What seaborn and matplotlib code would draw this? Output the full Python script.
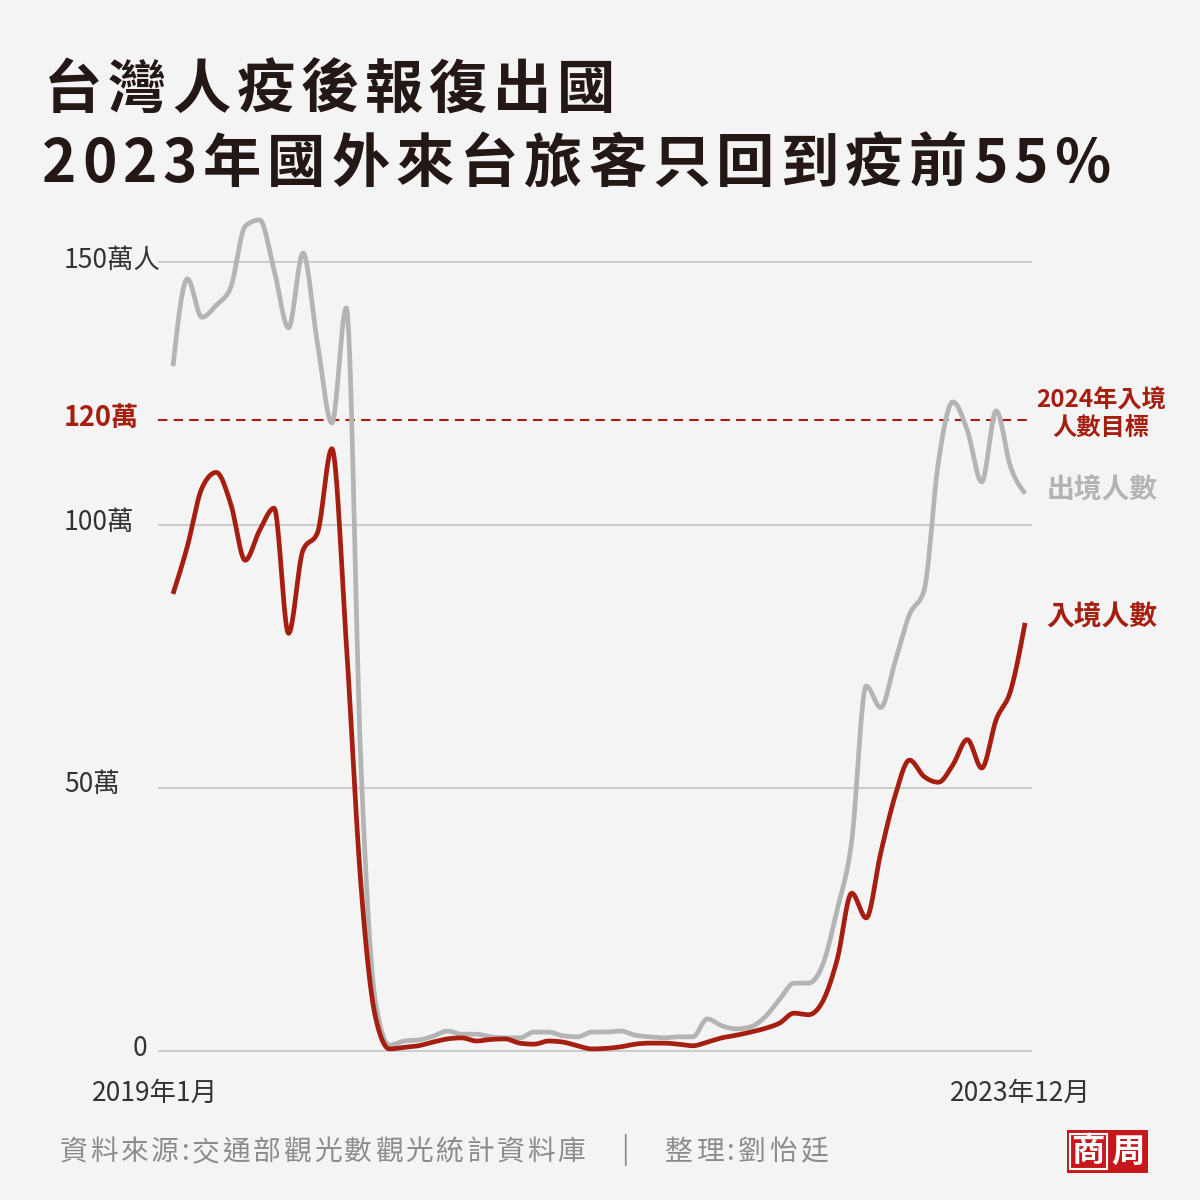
import numpy as np
import pandas as pd
import seaborn as sns
import matplotlib.pyplot as plt
from matplotlib.patches import Rectangle

# 月份: 2019年1月 ~ 2023年12月 (60個月), 單位: 萬人
month_labels = ['2019年1月', '2023年12月']

# 出境人數 (灰線)
outbound = [130.2, 146.8, 139.5, 141.8, 145.2, 156.8, 158.0, 148.5, 137.5, 151.7,
            134.6, 119.4, 141.3, 55.3, 9.7, 1.1, 1.9, 2.1, 2.8, 3.8,
            3.2, 3.2, 2.7, 2.5, 2.5, 3.6, 3.6, 2.9, 2.7, 3.6,
            3.6, 3.8, 3.0, 2.7, 2.5, 2.7, 2.7, 6.1, 4.8, 4.2,
            4.6, 6.5, 9.8, 12.9, 12.9, 16.5, 27.0, 40.0, 69.4, 65.3,
            74.0, 83.0, 87.5, 112.0, 123.4, 118.0, 108.2, 121.7, 111.0, 106.0]

# 入境人數 (紅線)
inbound = [86.9, 96.0, 107.0, 110.0, 104.0, 93.3, 99.0, 103.2, 79.4, 95.2,
           98.5, 114.5, 77.5, 32.0, 6.7, 0.4, 0.7, 1.0, 1.7, 2.3,
           2.5, 1.9, 2.2, 2.3, 1.5, 1.3, 1.9, 1.7, 1.0, 0.4,
           0.5, 0.8, 1.3, 1.5, 1.5, 1.3, 1.0, 1.7, 2.5, 3.0,
           3.6, 4.3, 5.3, 7.2, 6.9, 9.5, 17.5, 30.0, 25.3, 37.6,
           48.5, 55.3, 52.2, 51.1, 54.4, 59.2, 53.8, 63.0, 68.5, 81.4]

target = 120  # 2024年入境人數目標
grid_values = [0, 50, 100, 150]
grid_labels = ['0', '50萬', '100萬', '150萬人']

BG = '#f4f4f4'
RED = '#a61e10'
GRAY = '#b4b4b4'
INK = '#231815'
W, H = 1200, 1200


def P(x, y):
    # 像素座標 -> figure座標
    return x / W, 1 - y / H


def smooth(y, n=20):
    # monotone cubic (跟原圖的曲線一樣, 只用來畫線)
    y = np.asarray(y, float)
    x = np.arange(len(y), dtype=float)
    s = np.diff(y)
    m = np.zeros(len(y))
    for i in range(1, len(y) - 1):
        p = (s[i - 1] + s[i]) / 2
        m[i] = (np.sign(s[i - 1]) + np.sign(s[i])) * min(abs(s[i - 1]), abs(s[i]), 0.5 * abs(p))
    m[0] = (3 * s[0] - m[1]) / 2
    m[-1] = (3 * s[-1] - m[-2]) / 2
    xs, ys = [], []
    for i in range(len(y) - 1):
        t = np.linspace(0, 1, n, endpoint=False)
        h00 = 2 * t**3 - 3 * t**2 + 1
        h10 = t**3 - 2 * t**2 + t
        h01 = -2 * t**3 + 3 * t**2
        h11 = t**3 - t**2
        xs.append(x[i] + t)
        ys.append(h00 * y[i] + h10 * m[i] + h01 * y[i + 1] + h11 * m[i + 1])
    xs.append([x[-1]])
    ys.append([y[-1]])
    return np.concatenate(xs), np.concatenate(ys)


sns.set_theme(style='white', rc={'figure.facecolor': BG, 'axes.facecolor': BG})
plt.rcParams['font.family'] = ['Noto Sans CJK TC', 'DejaVu Sans']

fig = plt.figure(figsize=(12, 12), dpi=100)
fig.patch.set_facecolor(BG)

# 軸的範圍: 0 在 y=1051px, 150 在 y=262px; 第0個月 x=173px, 第59個月 x=1025px
ax = fig.add_axes([158 / W, 130 / H, 874 / W, 870 / H])
ax.set_facecolor(BG)
ax.set_xlim(-1.039, 59.48)
ax.set_ylim(-3.61, 161.79)
ax.axis('off')

for v in grid_values:
    ax.axhline(v, color='#c4c4c4', lw=1.2, zorder=1)
ax.axhline(target, color=RED, lw=1.5, ls=(0, (4.5, 3)), zorder=1)

rows = []
for name, vals in [('出境人數', outbound), ('入境人數', inbound)]:
    xs, ys = smooth(vals)
    rows.append(pd.DataFrame({'month': xs, 'value': ys, 'series': name}))
df = pd.concat(rows, ignore_index=True)

sns.lineplot(data=df, x='month', y='value', hue='series',
             hue_order=['出境人數', '入境人數'],
             palette={'出境人數': GRAY, '入境人數': RED},
             estimator=None, sort=False, legend=False, lw=3.4, ax=ax, zorder=3)
for line in ax.get_lines():
    line.set_solid_capstyle('butt')
    line.set_solid_joinstyle('round')

# y軸標籤
label_y = {0: 1048, 50: 785, 100: 522, 150: 260}
for v, lab in zip(grid_values, grid_labels):
    if v == 0:
        fig.text(*P(140, label_y[v]), lab, ha='center', va='center', fontsize=19, color='#333333')
    else:
        fig.text(*P(64, label_y[v]), lab, ha='left', va='center', fontsize=19, color='#333333')
fig.text(*P(64, 418), '120萬', ha='left', va='center', fontsize=19.5, color=RED, fontweight='bold')

# x軸標籤
fig.text(*P(155, 1093), month_labels[0], ha='center', va='center', fontsize=19, color='#333333')
fig.text(*P(1020, 1093), month_labels[1], ha='center', va='center', fontsize=19, color='#333333')

# 右邊的註記
fig.text(*P(1101, 401), '2024年入境', ha='center', va='center', fontsize=17.5, color=RED, fontweight='bold')
fig.text(*P(1101, 428), '人數目標', ha='center', va='center', fontsize=17.5, color=RED, fontweight='bold')
fig.text(*P(1102, 491), '出境人數', ha='center', va='center', fontsize=20, color=GRAY, fontweight='bold')
fig.text(*P(1102, 618), '入境人數', ha='center', va='center', fontsize=20, color=RED, fontweight='bold')


def tracked(text, x0, x1, y, **kw):
    # 一個字一個字畫, 字距平均分配到 x0~x1
    renderer = fig.canvas.get_renderer()
    objs = [fig.text(*P(x0, y), ch, ha='left', va='baseline', **kw) for ch in text]
    widths = [o.get_window_extent(renderer).width for o in objs]
    gap = (x1 - x0 - sum(widths)) / (len(text) - 1)
    x = x0
    for o, w in zip(objs, widths):
        o.set_position(P(x, y))
        x += w + gap


# 標題
tracked('台灣人疫後報復出國', 44, 615, 108, fontsize=42, fontweight='bold', color=INK)
tracked('2023年國外來台旅客只回到疫前55%', 42, 1110, 182, fontsize=42, fontweight='bold', color=INK)

# 資料來源
tracked('資料來源:交通部觀光數觀光統計資料庫', 60, 585, 1160, fontsize=20, color='#8c8c8c')
fig.text(*P(625, 1150), '|', ha='center', va='center', fontsize=20, color='#8c8c8c')
tracked('整理:劉怡廷', 665, 828, 1160, fontsize=20, color='#8c8c8c')

# 商周 logo
fig.patches.append(Rectangle(P(1067, 1173), 81 / W, 43 / H, transform=fig.transFigure,
                             facecolor='#c8161d', edgecolor='none'))
fig.patches.append(Rectangle(P(1070, 1169), 37 / W, 35 / H, transform=fig.transFigure,
                             facecolor='none', edgecolor='white', lw=1.5))
fig.text(*P(1088, 1152), '商', ha='center', va='center', fontsize=24, color='white', fontweight='bold')
fig.text(*P(1128, 1152), '周', ha='center', va='center', fontsize=24, color='white', fontweight='bold')

fig.savefig('out.png', dpi=100, facecolor=BG)
